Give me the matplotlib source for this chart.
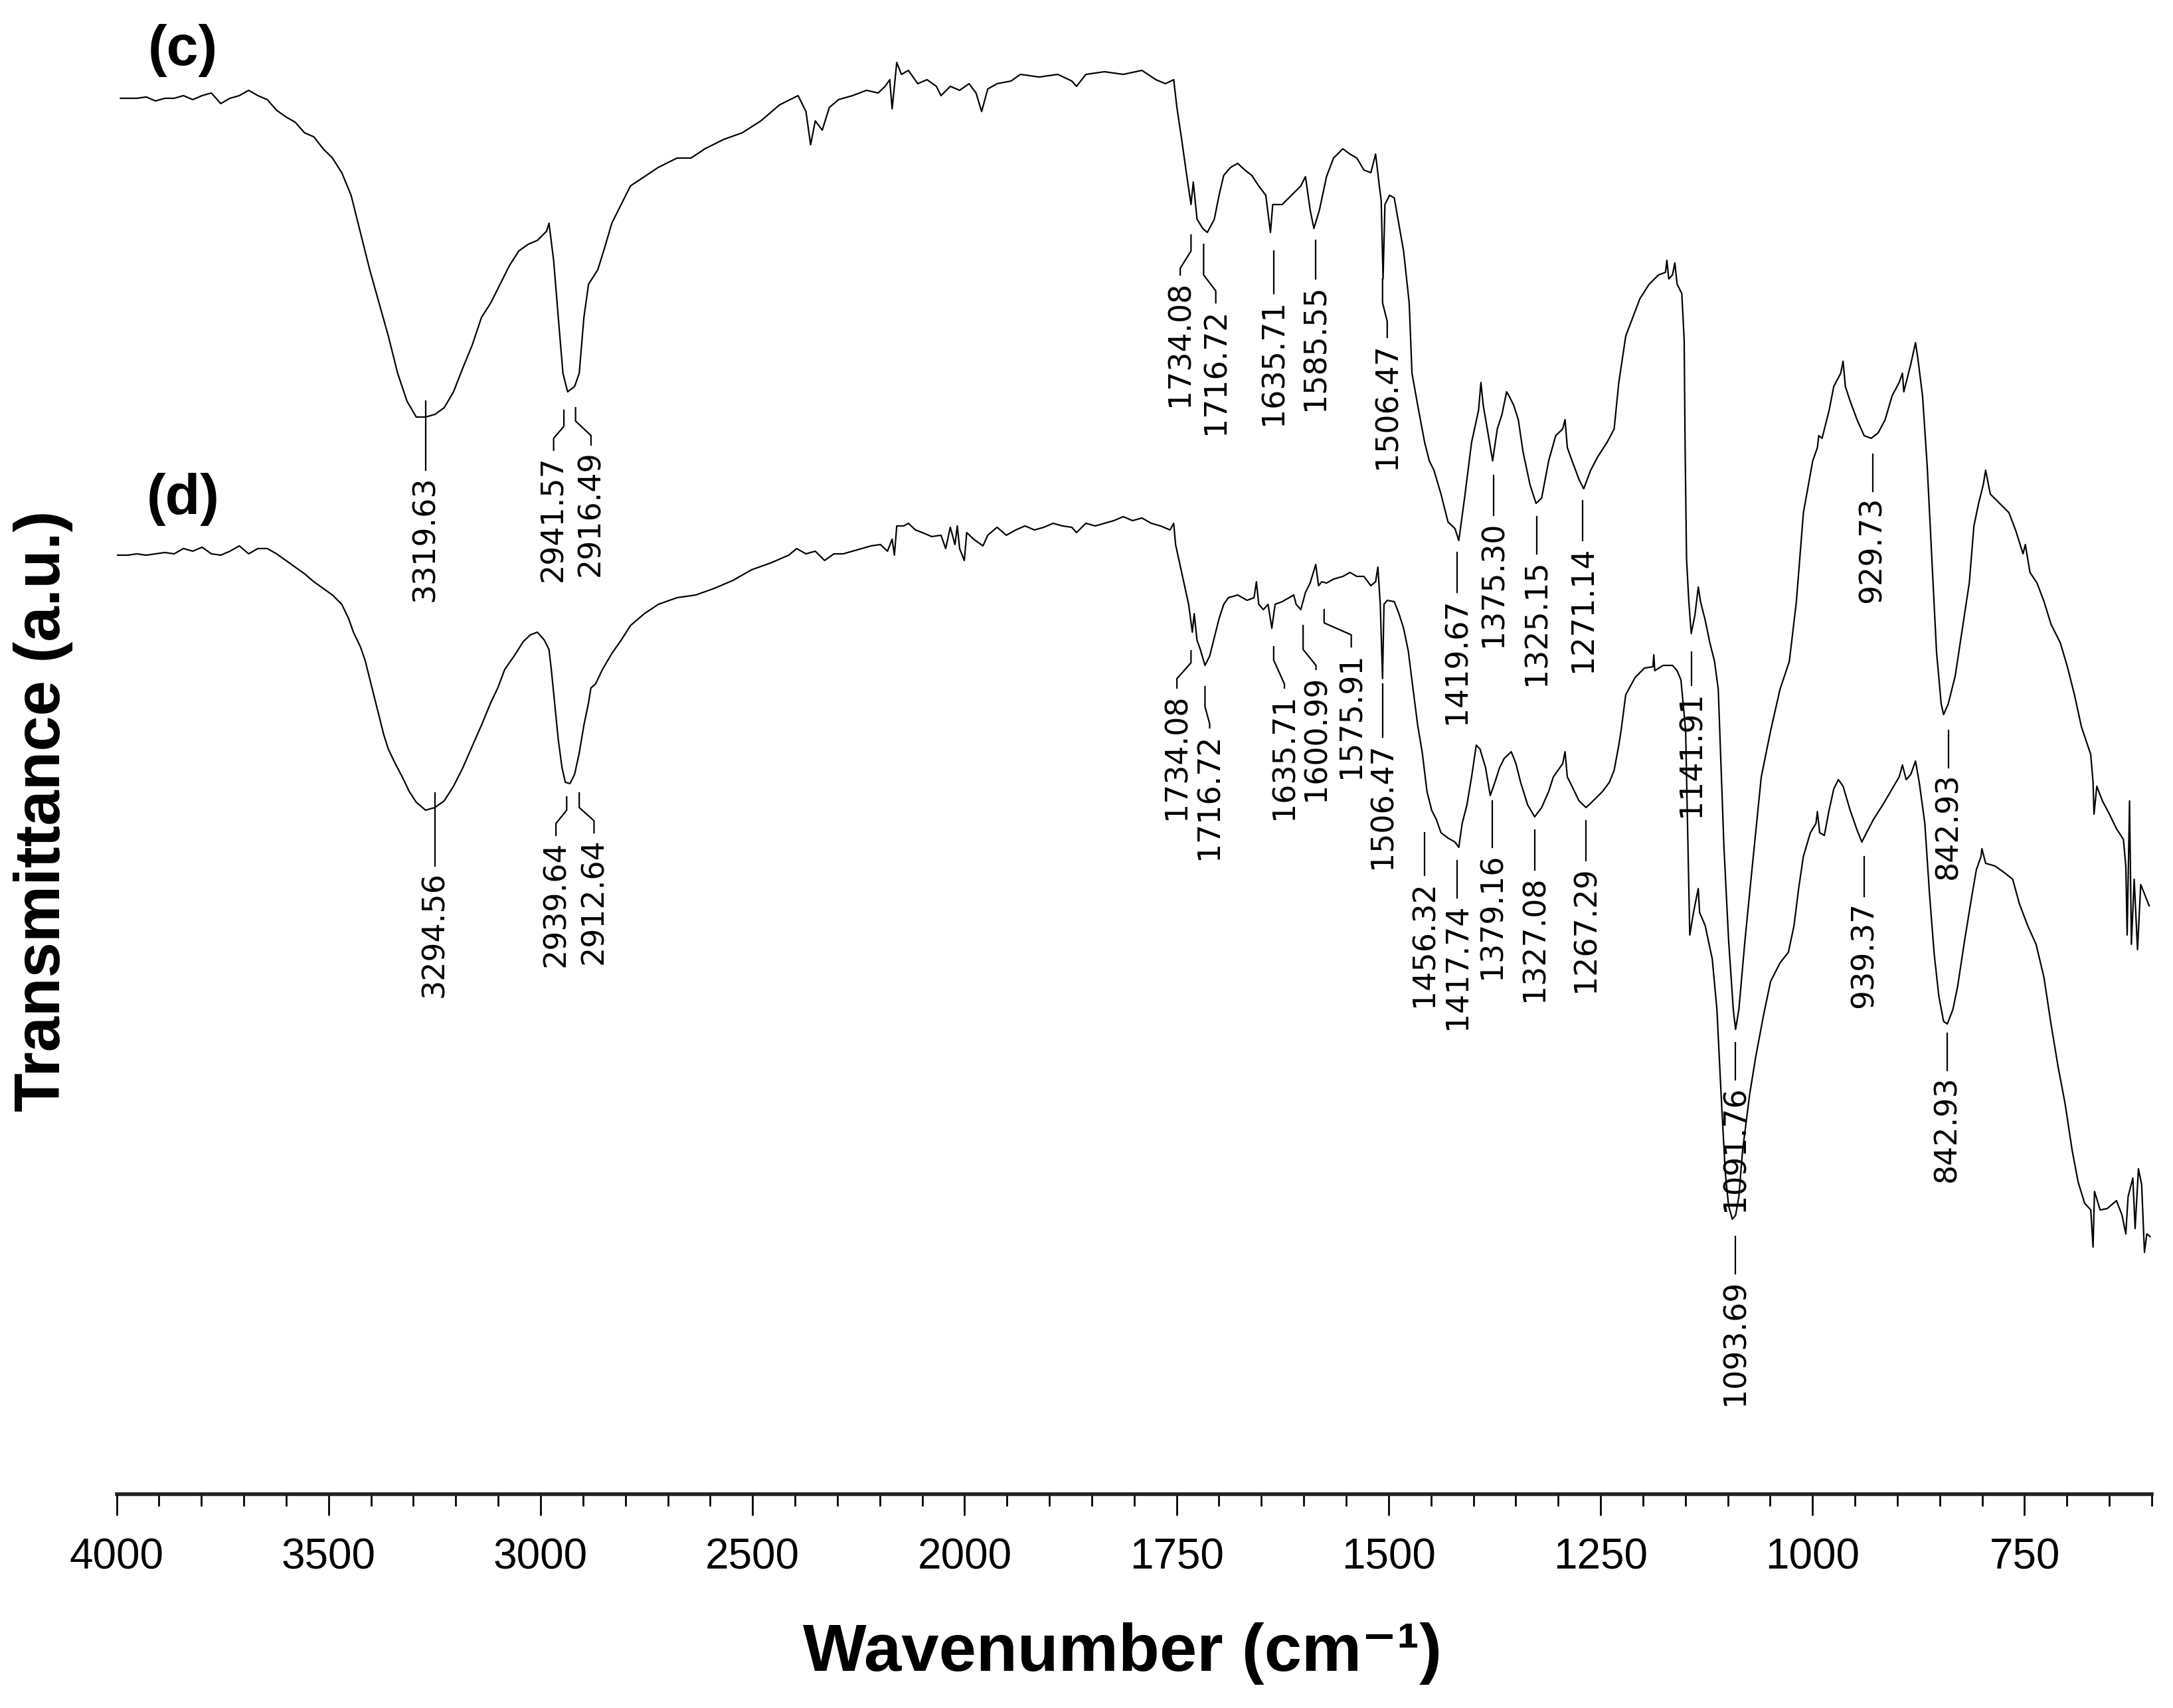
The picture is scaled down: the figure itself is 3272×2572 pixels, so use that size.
import matplotlib
matplotlib.use("Agg")
import matplotlib.pyplot as plt
import numpy as np

# FTIR spectra, wavenumber (cm-1) / transmittance (a.u.)
c_data = [
    (3990.7, 104.6), (3952.2, 104.6), (3930.3, 104.7), (3908.3, 104.4), (3886.3, 104.6), (3864.4, 104.6),
    (3842.4, 104.8), (3820.4, 104.5), (3798.5, 104.8), (3776.5, 105.0), (3754.5, 104.2), (3732.6, 104.6),
    (3710.6, 104.8), (3688.6, 105.2), (3666.7, 104.8), (3644.7, 104.5), (3622.7, 103.7), (3600.8, 103.2),
    (3578.8, 102.8), (3556.8, 102.0), (3534.9, 101.7), (3512.9, 100.8), (3490.9, 100.1), (3469.0, 99.0),
    (3447.0, 97.3), (3425.0, 94.5), (3403.1, 91.7), (3381.1, 89.2), (3359.2, 86.7), (3337.2, 83.9),
    (3315.2, 81.8), (3293.3, 80.6), (3271.3, 80.6), (3249.3, 80.8), (3227.4, 81.3), (3205.4, 82.5),
    (3183.4, 84.3), (3161.5, 86.0), (3139.5, 88.1), (3117.5, 89.2), (3095.6, 90.6), (3073.6, 92.0),
    (3051.6, 93.1), (3029.7, 93.6), (3007.7, 93.9), (2985.7, 94.6), (2980.2, 95.2), (2969.3, 92.4),
    (2958.3, 88.1), (2947.3, 83.9), (2936.3, 82.5), (2919.8, 82.9), (2908.9, 83.9), (2897.9, 88.1),
    (2886.9, 90.6), (2865.0, 91.7), (2848.5, 93.4), (2832.0, 95.2), (2810.0, 96.6), (2788.1, 98.0),
    (2755.1, 98.7), (2722.2, 99.4), (2678.2, 100.1), (2645.3, 100.1), (2612.3, 100.8), (2568.4, 101.5),
    (2524.5, 102.0), (2480.5, 102.9), (2436.6, 104.1), (2392.7, 104.8),
    (2374.1, 103.6), (2363.2, 101.1), (2352.2, 102.9), (2335.7, 102.2), (2319.2, 103.9), (2297.3, 104.5),
    (2264.3, 104.8), (2231.4, 105.2), (2203.9, 105.0), (2187.4, 105.5), (2176.5, 106.0), (2170.9, 103.8),
    (2160.0, 107.3), (2149.0, 106.4), (2132.5, 106.7), (2110.5, 105.7), (2088.6, 106.0), (2066.6, 105.5),
    (2055.6, 104.8), (2033.7, 105.5), (2011.7, 105.2), (1994.8, 105.7), (1986.5, 105.0), (1979.9, 103.6),
    (1972.7, 105.3), (1961.7, 105.7), (1945.2, 105.9), (1934.2, 106.4), (1912.1, 106.2), (1890.1, 106.4),
    (1873.6, 105.9), (1868.0, 105.5), (1857.0, 106.4), (1835.0, 106.6), (1812.9, 106.4), (1790.9, 106.7),
    (1774.4, 106.0), (1763.3, 105.7), (1753.4, 106.0), (1749.6, 103.9), (1744.0, 101.5), (1738.5, 99.0),
    (1733.0, 96.6), (1730.3, 98.3), (1725.9, 95.5), (1719.2, 94.8), (1713.7, 94.5), (1705.5, 95.5),
    (1699.9, 97.3), (1694.4, 98.8), (1686.2, 99.4), (1677.9, 99.7), (1669.6, 99.2), (1661.4, 98.8),
    (1653.1, 98.0), (1644.8, 97.3), (1639.3, 94.5), (1636.6, 96.6), (1625.5, 96.6), (1614.5, 97.3),
    (1603.5, 98.0), (1598.0, 98.7), (1592.5, 96.2), (1588.1, 94.8), (1581.5, 96.2), (1573.2, 98.7),
    (1564.9, 100.1), (1553.9, 100.8), (1545.6, 100.4), (1537.4, 100.1), (1529.1, 99.2), (1520.9, 99.0),
    (1515.3, 100.4), (1510.9, 98.0), (1508.7, 96.9), (1506.5, 91.0), (1504.3, 96.6), (1498.8, 97.3),
    (1493.3, 97.1), (1482.3, 93.1), (1475.7, 89.2), (1472.4, 83.9), (1465.7, 81.5), (1457.5, 78.7),
    (1452.0, 77.3), (1446.5, 76.6), (1438.2, 74.8), (1429.9, 72.7), (1421.7, 72.2), (1417.2, 71.3),
    (1410.4, 74.5), (1402.1, 78.7), (1393.9, 81.1), (1391.1, 83.2), (1388.4, 81.5), (1382.8, 79.4),
    (1377.3, 77.3), (1371.8, 79.7), (1366.3, 80.8), (1360.8, 82.5), (1358.0, 82.2), (1352.5, 81.5),
    (1347.0, 80.4), (1341.5, 78.0), (1333.2, 75.5), (1326.1, 74.1), (1319.5, 74.5), (1311.2, 77.3),
    (1302.9, 79.2), (1294.7, 79.7), (1291.9, 80.4), (1289.2, 78.3), (1283.6, 77.3), (1275.4, 75.9),
    (1269.9, 75.2), (1261.6, 76.6), (1253.4, 77.6), (1242.3, 78.7), (1234.0, 79.7), (1228.5, 83.2),
    (1220.3, 86.7), (1212.0, 88.1), (1203.7, 89.5), (1192.7, 90.6), (1181.7, 91.3), (1173.4, 91.5),
    (1171.8, 92.4), (1169.6, 91.0), (1165.2, 91.3), (1162.4, 92.2), (1159.7, 90.6), (1154.2, 89.9),
    (1151.4, 86.4), (1150.3, 78.3), (1148.6, 69.9), (1145.9, 66.7), (1143.1, 64.3), (1138.7, 65.7),
    (1134.8, 67.8), (1132.1, 66.7), (1126.6, 65.3), (1121.1, 63.6), (1115.6, 62.2), (1111.2, 60.1),
    (1104.5, 48.2), (1099.0, 41.2), (1093.5, 36.0), (1090.8, 34.5), (1086.9, 36.0), (1079.7, 41.2),
    (1071.5, 46.5), (1060.5, 53.5), (1049.4, 57.0), (1038.4, 60.1), (1027.4, 62.2), (1019.1, 66.7),
    (1010.8, 73.4), (999.8, 77.3), (994.3, 78.3), (992.7, 79.2), (988.8, 79.0), (980.5, 81.1),
    (975.0, 82.9), (966.8, 83.9), (964.0, 84.8), (961.3, 82.9), (955.7, 81.8), (947.5, 80.4),
    (939.2, 79.2), (930.9, 79.0), (922.7, 79.4), (914.4, 80.4), (906.2, 82.2), (897.9, 83.2),
    (894.0, 83.9), (892.4, 82.5), (884.1, 84.6), (878.6, 86.2), (875.8, 85.0), (870.3, 82.2),
    (864.8, 76.9), (859.3, 69.9), (853.8, 62.9), (848.3, 59.0), (845.5, 58.2), (840.0, 59.0),
    (831.8, 61.1), (823.5, 64.6), (815.2, 68.1), (809.7, 72.4), (804.2, 74.1), (798.7, 75.5),
    (795.9, 76.6), (790.4, 74.8), (779.4, 74.1), (768.4, 73.4), (760.1, 72.0), (751.8, 70.3),
    (749.1, 71.0), (743.6, 68.9), (735.3, 68.1), (727.0, 66.7), (718.8, 65.0), (707.8, 63.6),
    (699.5, 61.8), (691.2, 59.7), (683.0, 57.3), (672.0, 55.2), (669.2, 53.1), (668.1, 50.7),
    (664.8, 52.8), (658.2, 51.7), (649.9, 50.7), (641.6, 49.6), (633.4, 48.8), (630.6, 46.8),
    (629.0, 41.6), (626.2, 51.7), (624.0, 40.9), (620.7, 45.8), (616.8, 40.5), (613.0, 45.4),
    (608.6, 44.7), (603.1, 43.8),
]

d_data = [
    (3998.0, 70.2), (3974.2, 70.2), (3952.2, 70.3), (3930.3, 70.2), (3908.3, 70.3), (3886.3, 70.4),
    (3864.4, 70.3), (3842.4, 70.7), (3820.4, 70.5), (3798.5, 70.8), (3776.5, 70.3), (3754.5, 70.2),
    (3732.6, 70.5), (3710.6, 70.9), (3688.6, 70.3), (3666.7, 70.7), (3644.7, 70.7), (3622.7, 70.3),
    (3600.8, 69.8), (3578.8, 69.3), (3556.8, 68.8), (3534.9, 68.2), (3512.9, 67.7), (3490.9, 67.2),
    (3469.0, 66.5), (3452.5, 65.4), (3441.5, 64.4), (3425.0, 63.3), (3414.1, 62.3), (3403.1, 60.9),
    (3392.1, 59.5), (3381.1, 58.1), (3370.1, 56.7), (3359.2, 55.6), (3342.7, 54.5), (3326.2, 53.5),
    (3309.7, 52.4), (3293.3, 51.6), (3271.3, 51.0), (3249.3, 51.2), (3227.4, 51.7), (3205.4, 52.8),
    (3183.4, 54.2), (3161.5, 55.8), (3139.5, 57.4), (3117.5, 59.1), (3101.1, 60.2), (3084.6, 61.6),
    (3062.6, 62.6), (3040.7, 63.7), (3024.2, 64.2), (3007.7, 64.4), (2991.2, 63.8), (2980.2, 63.1),
    (2974.8, 61.6), (2966.0, 58.8), (2958.3, 56.3), (2949.5, 54.2), (2941.8, 53.1), (2930.8, 53.0),
    (2919.8, 53.7), (2908.9, 55.3), (2897.9, 57.4), (2886.9, 59.1), (2881.4, 60.2), (2870.5, 60.5),
    (2854.0, 61.6), (2832.0, 62.8), (2810.0, 63.8), (2788.1, 64.9), (2755.1, 65.8), (2722.2, 66.5),
    (2678.2, 67.0), (2634.3, 67.2), (2590.3, 67.7), (2546.4, 68.3), (2502.4, 69.1), (2458.5, 69.6),
    (2414.6, 70.2),
    (2396.1, 70.7), (2374.1, 70.3), (2352.2, 70.5), (2330.2, 69.8), (2308.2, 70.3), (2286.3, 70.3),
    (2264.3, 70.5), (2242.3, 70.7), (2220.4, 70.9), (2198.4, 71.0), (2181.9, 70.5), (2170.9, 71.4),
    (2165.5, 70.2), (2160.0, 72.4), (2143.5, 72.4), (2132.5, 72.6), (2116.0, 72.1), (2099.6, 71.9),
    (2077.6, 71.6), (2055.6, 71.7), (2044.6, 70.7), (2033.7, 72.3), (2022.7, 71.0), (2017.2, 72.4),
    (2011.7, 70.7), (2000.7, 69.8), (1997.5, 71.9), (1989.3, 71.4), (1978.3, 70.9), (1972.7, 71.7),
    (1961.7, 72.3), (1950.7, 71.7), (1939.7, 72.1), (1928.7, 72.4), (1917.6, 72.1), (1906.6, 72.3),
    (1895.6, 72.6), (1884.6, 72.4), (1873.6, 72.3), (1868.0, 71.9), (1857.0, 72.6), (1846.0, 72.4),
    (1835.0, 72.6), (1824.0, 72.8), (1812.9, 73.1), (1801.9, 72.8), (1790.9, 73.0), (1779.9, 72.6),
    (1768.9, 72.4), (1757.8, 72.1), (1753.4, 72.6), (1751.2, 71.0), (1744.0, 68.9), (1735.8, 66.5),
    (1731.4, 64.4), (1729.2, 65.8), (1725.9, 63.8), (1722.0, 63.1), (1716.5, 61.9), (1711.0, 62.6),
    (1705.5, 64.0), (1700.0, 65.4), (1694.4, 66.5), (1688.9, 67.0), (1677.9, 67.2), (1666.9, 66.8),
    (1658.6, 67.0), (1655.9, 68.2), (1653.1, 66.5), (1647.6, 66.1), (1642.1, 66.5), (1637.7, 64.7),
    (1633.8, 66.5), (1625.5, 66.7), (1617.3, 67.0), (1611.8, 67.2), (1609.0, 66.5), (1603.5, 66.1),
    (1598.0, 67.4), (1592.5, 68.1), (1585.9, 69.5), (1582.6, 67.9), (1578.7, 68.2), (1573.2, 68.1),
    (1564.9, 68.4), (1553.9, 68.6), (1545.6, 68.9), (1537.4, 68.6), (1529.1, 68.6), (1520.9, 67.9),
    (1515.3, 68.2), (1512.6, 69.3), (1509.8, 66.5), (1507.1, 60.9), (1505.4, 66.5), (1501.6, 66.8),
    (1493.3, 66.7), (1487.8, 65.8), (1482.3, 64.7), (1476.8, 63.0), (1471.3, 60.2), (1465.7, 57.4),
    (1460.2, 55.3), (1454.7, 52.4), (1449.2, 51.0), (1443.7, 50.3), (1438.2, 49.3), (1429.9, 48.9),
    (1421.7, 48.6), (1417.2, 48.2),
    (1413.2, 50.0), (1407.6, 51.4), (1402.1, 53.5), (1396.6, 55.9), (1392.2, 55.6), (1385.6, 54.2),
    (1380.1, 52.1), (1374.6, 53.1), (1369.1, 54.2), (1363.6, 54.9), (1355.3, 55.4), (1349.8, 54.5),
    (1344.3, 53.1), (1336.0, 51.4), (1327.7, 50.5), (1319.5, 51.2), (1311.2, 52.4), (1305.7, 53.5),
    (1300.2, 54.0), (1294.7, 54.5), (1291.9, 55.4), (1289.2, 53.5), (1283.7, 52.8), (1275.4, 51.7),
    (1267.1, 51.2), (1258.8, 51.7), (1247.8, 52.4), (1239.6, 53.1), (1234.0, 54.0), (1228.5, 55.9),
    (1225.8, 57.0), (1220.3, 59.7), (1209.2, 61.0), (1198.2, 61.7), (1188.3, 61.8), (1187.2, 62.7),
    (1186.1, 61.5), (1176.2, 61.9), (1165.2, 61.9), (1159.7, 61.5), (1155.2, 60.8), (1149.7, 57.0),
    (1147.5, 50.0), (1144.8, 41.6), (1140.4, 43.3), (1134.8, 45.1), (1133.2, 43.3), (1126.6, 42.3),
    (1118.3, 39.8), (1112.8, 36.0), (1107.3, 28.9), (1102.9, 23.7), (1099.0, 21.2), (1094.6, 20.2),
    (1090.8, 20.5), (1086.9, 21.9), (1082.5, 25.4), (1074.2, 29.6), (1067.1, 32.4), (1057.7, 35.6),
    (1049.5, 38.1), (1038.4, 39.5), (1028.5, 40.3), (1021.9, 42.3), (1016.4, 45.1), (1010.9, 47.5),
    (1002.6, 49.3), (996.0, 50.0), (994.3, 50.9), (991.6, 49.3), (986.1, 49.1), (980.5, 51.0),
    (975.0, 52.6), (969.5, 53.3), (964.0, 52.8), (955.7, 51.0), (947.5, 49.5), (941.9, 48.6),
    (936.4, 49.3), (928.2, 50.3), (917.2, 51.4), (906.2, 52.6), (897.9, 53.5), (894.0, 54.4),
    (889.6, 53.3), (884.1, 53.7), (878.6, 54.7), (874.2, 53.1), (867.6, 50.0), (862.1, 44.7),
    (856.6, 40.2), (851.1, 37.0), (845.5, 35.1), (841.1, 34.9), (834.5, 36.0), (829.0, 37.7),
    (820.7, 41.2), (812.5, 44.4), (806.9, 46.5), (801.4, 47.5), (800.3, 48.1), (795.9, 47.0),
    (784.9, 46.8), (773.9, 46.3), (764.0, 45.8), (756.3, 44.0), (746.3, 42.3), (736.4, 40.9),
    (727.1, 38.4), (718.8, 34.9), (710.5, 31.7), (702.2, 28.9), (693.9, 25.4), (686.8, 23.0),
    (679.1, 21.4), (671.9, 20.9), (669.2, 18.1), (667.5, 22.3), (660.9, 20.9), (652.6, 21.0),
    (641.6, 21.6), (635.0, 20.5), (630.6, 19.1), (627.9, 21.9), (622.3, 23.3), (619.6, 19.5),
    (615.7, 24.0), (611.9, 22.8), (608.6, 17.7), (605.8, 19.1), (602.0, 18.9),
]

# peak labels: text, x at peak, x at text, leader y0 -> y1 (vertical), y2 -> y3 (vertical after kink)
c_peaks = [
    ("3319.63", 3271.3, 3271.3, 81.8, 76.6, 76.6, 76.6),
    ("2941.57", 2945.1, 2969.3, 81.1, 79.9, 79.0, 78.1),
    ("2916.49", 2917.6, 2881.0, 81.3, 80.3, 79.2, 78.5),
    ("1734.08", 1733.0, 1745.7, 94.3, 93.1, 91.8, 91.3),
    ("1716.72", 1718.1, 1703.8, 93.6, 91.3, 90.1, 89.2),
    ("1635.71", 1635.5, 1635.5, 93.1, 89.9, 89.9, 89.9),
    ("1585.55", 1585.9, 1585.9, 93.9, 91.0, 91.0, 91.0),
    ("1506.47", 1507.1, 1501.6, 91.0, 89.2, 87.8, 86.6),
    ("1419.67", 1418.9, 1418.9, 70.4, 67.4, 67.4, 67.4),
    ("1375.30", 1376.5, 1376.5, 76.2, 73.2, 73.2, 73.2),
    ("1325.15", 1325.0, 1325.0, 73.1, 70.3, 70.3, 70.3),
    ("1271.14", 1271.0, 1271.0, 74.3, 71.3, 71.3, 71.3),
    ("1141.91", 1143.1, 1143.1, 62.9, 60.4, 60.4, 60.4),
    ("1091.76", 1090.8, 1090.8, 33.5, 30.7, 30.7, 30.7),
    ("929.73", 929.3, 929.3, 77.8, 75.0, 75.0, 75.0),
    ("842.93", 840.0, 840.0, 57.0, 54.2, 54.2, 54.2),
]

d_peaks = [
    ("3294.56", 3249.3, 3249.3, 52.3, 46.8, 46.8, 46.8),
    ("2939.64", 2938.5, 2963.8, 52.0, 51.0, 50.0, 49.1),
    ("2912.64", 2908.9, 2874.0, 52.3, 51.2, 50.2, 49.3),
    ("1734.08", 1733.0, 1749.6, 63.0, 62.1, 60.9, 60.2),
    ("1716.72", 1716.5, 1711.0, 60.3, 58.8, 57.5, 57.2),
    ("1635.71", 1635.5, 1622.8, 63.3, 62.3, 60.5, 60.2),
    ("1600.99", 1600.8, 1585.6, 64.9, 63.1, 61.9, 61.6),
    ("1575.91", 1576.0, 1544.0, 66.1, 65.1, 64.2, 63.3),
    ("1506.47", 1507.1, 1507.1, 60.5, 56.5, 56.5, 56.5),
    ("1456.32", 1457.5, 1457.5, 49.3, 46.1, 46.1, 46.1),
    ("1417.74", 1418.9, 1418.9, 47.2, 44.4, 44.4, 44.4),
    ("1379.16", 1377.6, 1377.6, 51.7, 48.2, 48.2, 48.2),
    ("1327.08", 1327.7, 1327.7, 49.5, 46.5, 46.5, 46.5),
    ("1267.29", 1267.1, 1267.1, 50.2, 47.2, 47.2, 47.2),
    ("1093.69", 1090.8, 1090.8, 18.9, 16.1, 16.1, 16.1),
    ("939.37", 939.2, 939.2, 47.5, 44.5, 44.5, 44.5),
    ("842.93", 841.1, 841.1, 34.2, 31.4, 31.4, 31.4),
]

major_ticks = [4000, 3500, 3000, 2500, 2000, 1750, 1500, 1250, 1000, 750]
minor_ticks = [w for w in list(range(3900, 2000, -100)) + list(range(1950, 599, -50)) if w not in major_ticks]


# spectrometer style axis: 4000-2000 compressed, 2000-600 expanded 2x
def fwd(x):
    x = np.asarray(x, dtype=float)
    return np.where(x >= 2000, x, 2 * x - 2000)


def inv(u):
    u = np.asarray(u, dtype=float)
    return np.where(u >= 2000, u, (u + 2000) / 2)


W, H = 3272, 2572
fig = plt.figure(figsize=(W / 100, H / 100), dpi=100)
ax = fig.add_axes([175.6 / W, 1 - 2250 / H, (3240 - 175.6) / W, 2250 / H])
ax.set_xscale("function", functions=(fwd, inv))

lw = 1.6
for data, peaks in ((c_data, c_peaks), (d_data, d_peaks)):
    wn, tr = zip(*data)
    ax.plot(wn, tr, color="black", lw=lw)
    for lab, xp, xt, y0, y1, y2, y3 in peaks:
        ax.plot([xp, xp, xt, xt], [y0, y1, y2, y3], color="black", lw=lw)
        ax.text(xt, y3 - 0.4, lab, rotation=90, ha="center", va="top",
                fontsize=33, family="DejaVu Sans", color="black")

ax.text(3844, 108.2, "(c)", fontsize=62, fontweight="bold", family="Liberation Sans",
        ha="center", va="center")
ax.text(3843, 74.4, "(d)", fontsize=62, fontweight="bold", family="Liberation Sans",
        ha="center", va="center")

ax.set_xlim(4000, 600)
ax.set_ylim(-0.5, 112)
for s in ("left", "right", "top"):
    ax.spines[s].set_visible(False)
ax.spines["bottom"].set_linewidth(4)
ax.spines["bottom"].set_color("#202020")
ax.set_yticks([])
ax.set_xticks(major_ticks)
ax.set_xticks(minor_ticks, minor=True)
ax.set_xticklabels([str(t) for t in major_ticks],
                   fontdict={"family": "Liberation Sans", "size": 46})
ax.tick_params(axis="x", which="major", length=23, width=2, pad=24)
ax.tick_params(axis="x", which="minor", length=13, width=2)

fig.text(1690 / W, 1 - 2490 / H, "Wavenumber (cm\u207b\u00b9)", fontsize=73, fontweight="bold",
         family=["Liberation Sans", "DejaVu Sans"], ha="center", va="center")
fig.text(65 / W, 1 - 1221 / H, "Transmittance (a.u.)", fontsize=69, fontweight="bold", rotation=90,
         family="Liberation Sans", ha="center", va="center")

fig.savefig("out.png", dpi=100)
